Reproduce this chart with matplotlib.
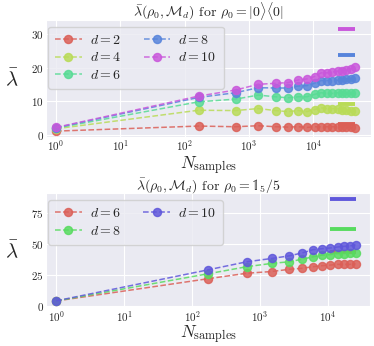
import matplotlib
matplotlib.use("Agg")
import matplotlib.pyplot as plt
import seaborn as sns
import numpy as np

sns.set_style("darkgrid")
plt.rcParams["font.family"] = ["serif"]
plt.rcParams["font.serif"] = ["cmr10"]
plt.rcParams["mathtext.fontset"] = "cm"
plt.rcParams["axes.formatter.use_mathtext"] = True

# ---- Top panel data: rho0 = |0><0|
n_top = [1, 165, 620, 1400, 2600, 4000, 5900, 8000, 10500, 13300, 16500,
         20000, 24000, 28500, 33000, 38500, 44000]
d_top = [2, 4, 6, 8, 10]
lam_top = {
    2: [1.2, 2.7, 2.5, 2.8, 2.5, 2.4, 2.5, 2.3, 2.5, 2.5, 2.5, 2.5, 2.5, 2.5, 2.5, 2.4, 2.2],
    4: [1.9, 7.4, 7.3, 7.9, 7.3, 7.0, 7.3, 7.0, 7.6, 8.1, 7.9, 7.9, 7.9, 7.6, 7.4, 7.3, 7.1],
    6: [2.1, 9.9, 10.7, 11.9, 11.4, 11.1, 11.4, 11.4, 12.1, 12.6, 12.4, 12.4, 12.6, 12.4, 12.4, 12.4, 12.4],
    8: [2.2, 11.2, 12.6, 14.1, 14.0, 14.0, 14.6, 14.7, 15.4, 16.2, 16.2, 16.2, 16.3, 16.4, 16.6, 16.8, 17.1],
    10: [2.3, 11.6, 13.4, 15.1, 15.4, 15.6, 16.4, 16.7, 17.4, 18.5, 18.5, 18.75, 19.0, 19.1, 19.3, 19.7, 20.3],
}
bar_top = {2: 3.3, 4: 9.4, 6: 16.5, 8: 23.9, 10: 31.6}

# ---- Bottom panel data: rho0 = 1_5/5
n_bot = [1, 170, 640, 1500, 2700, 4200, 6000, 8100, 10800, 14000, 17300, 21000, 25500]
d_bot = [6, 8, 10]
lam_bot = {
    6: [4.0, 22.0, 26.5, 27.9, 29.7, 30.5, 31.8, 32.6, 33.1, 33.7, 33.7, 33.7, 34.2],
    8: [4.0, 26.0, 31.8, 34.5, 35.8, 37.9, 39.8, 41.1, 41.6, 42.4, 42.4, 43.0, 43.2],
    10: [4.1, 29.2, 35.8, 38.5, 40.6, 43.0, 45.6, 46.4, 47.0, 47.8, 48.3, 48.6, 49.6],
}
bar_bot = {6: 43.8, 8: 62.0, 10: 86.8}

W, H = 374, 346
fig = plt.figure(figsize=(W / 100, H / 100), dpi=100)

def add_ax(l, r, t, b):
    return fig.add_axes([l / W, 1 - b / H, (r - l) / W, (b - t) / H])

ax1 = add_ax(46, 371, 20, 136.5)
ax2 = add_ax(46, 370, 193, 307)

def draw(ax, n, ds, lam, bars, pal, leg_y, xpad):
    for d, c in zip(ds, pal):
        ax.plot(n, lam[d], "--o", color=c, lw=1.1, ms=5.8, alpha=0.85,
                label=f"$d={d}$")
        ax.hlines(bars[d], n[-5], n[-1], color=c, lw=2.8)
    ax.set_xscale("log")
    ax.tick_params(labelsize=8, pad=1.5, length=0)
    ax.set_xlabel(r"$N_{\rm samples}$", fontsize=12.5, labelpad=xpad)
    ax.set_ylabel(r"$\bar{\lambda}$", fontsize=15, rotation=0, labelpad=14, va="center")
    ax.legend(ncol=2, loc="upper left", bbox_to_anchor=(0.007, leg_y),
              borderaxespad=0, fontsize=10, handlelength=1.9, handletextpad=0.6,
              columnspacing=1.6, borderpad=0.5, labelspacing=0.35)
    ax.grid(which="minor", visible=False)

pal5 = sns.color_palette("hls", 5)
pal3 = sns.color_palette("hls", 3)
draw(ax1, n_top, d_top, lam_top, bar_top, pal5, 0.943, 0.5)
draw(ax2, n_bot, d_bot, lam_bot, bar_bot, pal3, 0.94, -0.5)

ax1.set_xlim(10 ** -0.156, 10 ** 4.9)
ax1.set_ylim(-0.4, 34.2)
ax1.set_yticks([0, 10, 20, 30])
ax1.set_title(r"$\bar{\lambda}(\rho_0, \mathcal{M}_d)$ for $\rho_0 = |0\rangle\langle 0|$",
              fontsize=10, pad=2.5)

ax2.set_xlim(10 ** -0.15, 10 ** 4.62)
ax2.set_ylim(-0.9, 91.6)
ax2.set_yticks([0, 25, 50, 75])
ax2.set_title(r"$\bar{\lambda}(\rho_0, \mathcal{M}_d)$ for $\rho_0 = \mathbb{1}_5/5$",
              fontsize=10, pad=2.5)

fig.savefig("out.png", dpi=100)
